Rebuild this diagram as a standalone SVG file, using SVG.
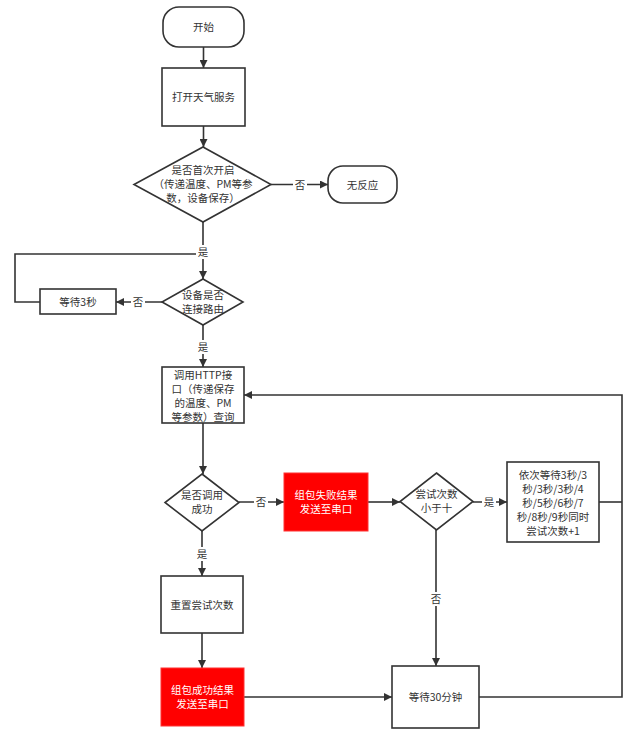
<svg xmlns="http://www.w3.org/2000/svg" width="638" height="751" viewBox="0 0 638 751">
<defs>
<marker id="arr" viewBox="0 0 10 10" refX="10" refY="5" markerWidth="8" markerHeight="8" markerUnits="userSpaceOnUse" orient="auto">
<path d="M0,0 L10,5 L0,10 z" fill="#333"/>
</marker>
<style>
.n{fill:#fff;stroke:#333;stroke-width:1.6}
.r{fill:#ff0000;stroke:#ff3333;stroke-width:1}
.t{font-family:"Noto Sans CJK SC","Liberation Sans",sans-serif;font-size:10.5px;fill:#333;text-anchor:middle}
.w{fill:#fff}
.c{fill:none;stroke:#333;stroke-width:1.6}
.lb{fill:#fff}
</style>
</defs>
<rect width="638" height="751" fill="#fff"/>
<g id="connectors">
<path class="c" d="M203.5,47 V68" marker-end="url(#arr)"/>
<path class="c" d="M203.5,126 V147" marker-end="url(#arr)"/>
<path class="c" d="M271,184.5 H328" marker-end="url(#arr)"/>
<path class="c" d="M203,222 V279" marker-end="url(#arr)"/>
<path class="c" d="M162,302 H116" marker-end="url(#arr)"/>
<path class="c" d="M40,302 H15 V254 H203"/>
<path class="c" d="M203,325 V367" marker-end="url(#arr)"/>
<path class="c" d="M203,423 V474" marker-end="url(#arr)"/>
<path class="c" d="M239,502 H284" marker-end="url(#arr)"/>
<path class="c" d="M202,531 V576" marker-end="url(#arr)"/>
<path class="c" d="M202,633 V668" marker-end="url(#arr)"/>
<path class="c" d="M244,697 H392" marker-end="url(#arr)"/>
<path class="c" d="M368,502 H400" marker-end="url(#arr)"/>
<path class="c" d="M473,502 H507" marker-end="url(#arr)"/>
<path class="c" d="M436,530 V666" marker-end="url(#arr)"/>
<path class="c" d="M599,502 H622"/>
<path class="c" d="M479,697 H622 V395 H244" marker-end="url(#arr)"/>
<rect class="lb" x="293" y="177" width="14" height="14"/>
<text class="t" x="300" y="188.5">否</text>
<rect class="lb" x="196" y="245" width="14" height="14"/>
<text class="t" x="203" y="256">是</text>
<rect class="lb" x="131" y="295" width="14" height="14"/>
<text class="t" x="138" y="306">否</text>
<rect class="lb" x="196" y="340" width="14" height="14"/>
<text class="t" x="203" y="351">是</text>
<rect class="lb" x="254" y="495" width="14" height="14"/>
<text class="t" x="261" y="506">否</text>
<rect class="lb" x="195" y="547" width="14" height="14"/>
<text class="t" x="202" y="558">是</text>
<rect class="lb" x="482" y="495" width="14" height="14"/>
<text class="t" x="489" y="506">是</text>
<rect class="lb" x="429" y="592" width="14" height="14"/>
<text class="t" x="436" y="603">否</text>
</g>
<g id="start">
<rect class="n" x="163" y="7" width="81" height="40" rx="16" ry="16"/>
<text class="t" x="203.5" y="31">开始</text>
</g>
<g id="open">
<rect class="n" x="162" y="68" width="83" height="58"/>
<text class="t" x="203.5" y="101">打开天气服务</text>
</g>
<g id="first">
<polygon class="n" points="203,147 271,184.5 203,222 134,184.5"/>
<text class="t" x="203" y="174">是否首次开启</text>
<text class="t" x="203" y="188">（传递温度、PM等参</text>
<text class="t" x="203" y="202">数，设备保存）</text>
</g>
<g id="noresp">
<rect class="n" x="328" y="166" width="69" height="37" rx="15" ry="15"/>
<text class="t" x="362.5" y="188.5">无反应</text>
</g>
<g id="route">
<polygon class="n" points="203,279 243,302 203,325 162,302"/>
<text class="t" x="203" y="299">设备是否</text>
<text class="t" x="203" y="313">连接路由</text>
</g>
<g id="wait3">
<rect class="n" x="40" y="289" width="76" height="25"/>
<text class="t" x="78" y="305.5">等待3秒</text>
</g>
<g id="http">
<rect class="n" x="162" y="367" width="82" height="56"/>
<text class="t" x="203" y="379">调用HTTP接</text>
<text class="t" x="203" y="393">口（传递保存</text>
<text class="t" x="203" y="407">的温度、PM</text>
<text class="t" x="203" y="421">等参数）查询</text>
</g>
<g id="success">
<polygon class="n" points="202,474 239,502.5 202,531 165,502.5"/>
<text class="t" x="202" y="499">是否调用</text>
<text class="t" x="202" y="513">成功</text>
</g>
<g id="failsend">
<rect class="r" x="284" y="473" width="84" height="58"/>
<text class="t w" x="326" y="499">组包失败结果</text>
<text class="t w" x="326" y="513">发送至串口</text>
</g>
<g id="tries">
<polygon class="n" points="436.5,473 473,501.5 436.5,530 400,501.5"/>
<text class="t" x="436.5" y="498">尝试次数</text>
<text class="t" x="436.5" y="512">小于十</text>
</g>
<g id="waitseq">
<rect class="n" x="507" y="462" width="92" height="80"/>
<text class="t" x="553" y="479">依次等待3秒/3</text>
<text class="t" x="553" y="493">秒/3秒/3秒/4</text>
<text class="t" x="553" y="507">秒/5秒/6秒/7</text>
<text class="t" x="553" y="521">秒/8秒/9秒同时</text>
<text class="t" x="553" y="535">尝试次数+1</text>
</g>
<g id="reset">
<rect class="n" x="161" y="576" width="82" height="57"/>
<text class="t" x="202" y="608.5">重置尝试次数</text>
</g>
<g id="oksend">
<rect class="r" x="161" y="668" width="83" height="58"/>
<text class="t w" x="202.5" y="694">组包成功结果</text>
<text class="t w" x="202.5" y="708">发送至串口</text>
</g>
<g id="wait30">
<rect class="n" x="392" y="666" width="87" height="62"/>
<text class="t" x="435.5" y="701">等待30分钟</text>
</g>
</svg>
